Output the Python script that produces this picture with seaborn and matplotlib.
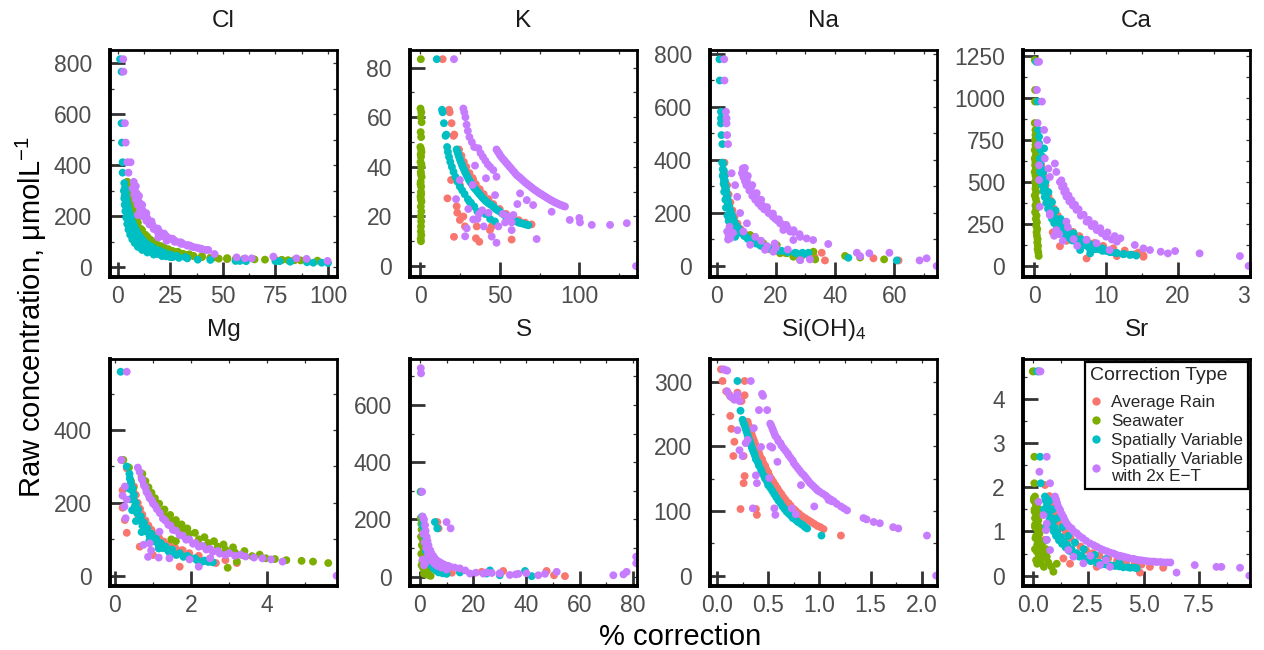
import matplotlib
matplotlib.use("Agg")
import matplotlib.pyplot as plt
import seaborn as sns
import pandas as pd
from matplotlib.ticker import MultipleLocator, FixedLocator, FixedFormatter
from matplotlib.lines import Line2D
from matplotlib.transforms import Bbox, TransformedBbox

# ---------------- data ----------------
TYPES = ["Average Rain", "Seawater", "Spatially Variable", "Spatially Variable\nwith 2x E\u2212T"]
COLORS = ["#F8766D", "#7CAE00", "#00BFC4", "#C77CFF"]

# Cl
cl_sea_x = [4.4, 4.8, 5.0, 5.3, 5.6, 6.0, 6.5, 7.0, 7.6, 8.3, 9.0, 10.0, 11.0, 12.2, 13.5, 15.0, 16.5, 18.0, 20.0, 22.0, 24.5, 27.0, 30.0, 33.0, 36.0, 40.0, 44.0, 48.0, 52.0, 56.0, 75.0, 78.0, 81.0, 84.0, 87.0, 5.5, 6.5, 7.5, 9.0, 11.0, 13.0, 15.5, 18.5, 22.0, 26.0, 31.0,
            6.0, 7.0, 8.0, 9.5, 11.5, 14.0, 17.0, 20.5, 24.0, 28.5, 34.0, 40.0, 46.0, 52.0, 60.0, 65.0, 70.0, 90.0, 95.0]
cl_sea_y = [335, 315, 300, 285, 268, 252, 235, 218, 200, 183, 168, 152, 138, 125, 113, 102, 93, 86, 78, 71, 64, 58, 53, 48, 44, 40, 37, 34, 33, 32, 29, 29, 28, 28, 27, 290, 250, 220, 185, 150, 128, 108, 90, 76, 64, 53,
            265, 232, 205, 175, 145, 120, 99, 83, 71, 61, 51, 44, 39, 36, 33, 31, 30, 27, 26]
cl_rain_x = [4.4, 5.0, 5.6, 6.5, 7.6, 9.0, 11.0, 13.5, 16.5, 20.0, 24.5, 30.0, 36.0, 44.0, 52.0, 78.0, 84.0]
cl_rain_y = [335, 300, 268, 235, 200, 168, 138, 113, 93, 78, 64, 53, 44, 37, 33, 29, 28]
cl_sv_x = [1.0, 1.7, 1.7, 1.9, 2.2, 2.2, 3.0, 3.3, 3.6, 3.2, 3.8, 4.0, 4.3, 3.9, 4.6, 5.0, 4.8, 5.4, 5.8, 6.3, 6.0, 6.8, 7.3, 8.0, 8.8, 9.5, 10.5, 11.5, 12.5, 14.0, 15.5, 17.0, 19.0, 21.0, 23.0, 26.0, 29.0, 33.0, 38.0, 44.0, 56.0, 58.0, 61.0, 75.0, 77.0, 82.0, 90.0, 93.0, 97.0, 100.0, 9.0, 11.0, 13.0, 16.0, 19.5,
           3.4, 3.7, 4.1, 4.5, 5.0, 5.6, 6.2, 7.0, 7.8, 8.6, 9.6, 10.8, 12.0, 13.5, 15.0, 17.0, 19.5, 22.0, 25.0, 28.0, 32.0,
           2.8, 3.0, 3.2, 3.5, 3.9, 4.4, 5.0, 5.8, 6.8, 8.0, 9.5, 11.5, 14.0, 17.0, 21.0, 25.0]
cl_sv_y = [816, 767, 565, 489, 412, 371, 330, 310, 295, 280, 270, 255, 240, 225, 215, 200, 190, 180, 170, 160, 150, 140, 130, 120, 110, 100, 92, 85, 78, 70, 64, 58, 52, 47, 43, 40, 37, 35, 30, 29, 25, 25, 24, 24, 24, 22, 20, 18, 18, 17, 128, 108, 95, 80, 66,
           300, 280, 262, 245, 228, 210, 192, 175, 160, 146, 132, 118, 105, 94, 85, 75, 66, 58, 50, 45, 40,
           300, 270, 245, 220, 195, 170, 148, 128, 110, 95, 80, 68, 58, 50, 44, 40]
cl_et_x = [2.5, 2.6, 3.3, 3.7, 4.5, 6.0, 5.0, 7.5, 8.0, 8.8, 9.5, 10.3, 11.2, 12.0, 13.0, 14.0, 15.2, 16.5, 18.0, 19.5, 21.0, 23.0, 25.0, 27.0, 29.0, 31.0, 33.0, 35.0, 37.5, 40.0, 8.5, 10.0, 11.5, 13.5, 16.0, 19.0, 22.0, 26.0, 30.0, 34.0, 9.5, 19.2, 23.2, 39.0, 43.0, 46.0, 56.5, 60.5, 63.7, 74.0, 85.0, 89.8, 99.8,
           7.0, 7.8, 8.5, 9.3, 10.5, 12.0, 13.5, 15.0, 17.0, 19.0, 21.5, 24.0, 27.0, 30.0, 33.0, 36.0, 39.0, 42.0]
cl_et_y = [816, 767, 565, 489, 412, 412, 371, 335, 315, 292, 272, 253, 235, 220, 205, 192, 178, 165, 152, 142, 133, 122, 113, 105, 98, 92, 87, 82, 77, 72, 318, 280, 245, 212, 180, 152, 132, 112, 98, 86, 205, 117, 104, 74, 68, 52, 39, 35, 35, 42, 35, 33, 25,
           310, 285, 265, 245, 222, 200, 182, 168, 150, 136, 122, 110, 100, 92, 85, 79, 73, 68]

# K
k_rain_x = [14.2, 18.2, 18.6, 19.8, 21.0, 21.5, 24.5, 26.0, 27.5, 29.0, 31.0, 33.0, 35.0, 37.5, 40.0, 43.0, 46.0, 50.0, 54.0, 58.0, 62.0, 66.0, 70.0, 19.5, 17.2, 23.0, 23.4, 21.3, 25.0, 27.2, 28.2, 35.6, 35.1, 37.2, 43.9, 45.0, 57.5, 56.5, 25.0, 33.4]
k_rain_y = [83.4, 63.0, 62.0, 57.6, 52.5, 53.0, 47.0, 44.5, 42.0, 40.0, 37.5, 35.5, 33.0, 31.0, 29.0, 27.0, 25.0, 23.0, 21.0, 19.5, 18.5, 17.5, 16.8, 34.7, 27.3, 24.1, 21.5, 11.8, 18.6, 20.0, 16.0, 16.0, 11.2, 9.8, 14.5, 16.0, 10.7, 18.6, 32.7, 34.7]
k_sea_x = [0.5, 0.3, 0.8, 0.5, 1.0, 0.4, 0.7, 0.2, 0.9, 0.6, 0.3, 0.8, 0.5, 1.0, 0.4, 0.7, 0.6, 0.3, 0.9, 0.5, 0.8, 0.4, 0.7, 0.6, 0.5, 0.8, 0.4, 0.6, 0.5, 0.7, 0.4, 0.9, 0.6, 0.3, 0.7]
k_sea_y = [83.4, 63.5, 62.0, 60.0, 58.0, 54.0, 52.0, 48.0, 46.0, 44.0, 42.0, 40.0, 38.0, 36.0, 34.0, 32.0, 30.0, 28.0, 26.0, 24.0, 22.0, 20.0, 18.0, 16.0, 14.0, 12.5, 11.0, 10.0, 27.0, 47.0, 45.0, 41.0, 37.0, 33.0, 29.0]
k_sv_x = [10.5, 13.8, 14.2, 15.0, 16.0, 16.5, 17.0, 17.5, 18.2, 19.0, 20.0, 21.0, 22.2, 23.5, 25.0, 26.5, 28.0, 30.0, 32.0, 34.0, 23.0, 24.0, 25.0, 26.2, 27.5, 29.0, 30.5, 32.0, 34.0, 36.0, 38.0, 40.0, 42.5, 45.0, 47.5, 50.0, 53.0, 56.0, 59.0, 62.0, 65.0, 68.0, 41.0, 44.0, 47.0, 36.0, 31.0,
          23.5, 24.5, 25.6, 26.8, 28.2, 29.8, 31.3, 33.0, 35.0, 37.0, 39.0, 41.2, 43.7, 46.2, 48.7, 51.5, 54.5, 57.5, 60.5, 63.5, 66.5]
k_sv_y = [83.4, 63.0, 62.0, 57.6, 52.5, 53.0, 48.0, 46.0, 44.0, 42.0, 40.0, 38.0, 36.0, 34.0, 32.0, 30.5, 29.0, 27.0, 25.5, 24.0, 47.0, 45.0, 43.0, 41.0, 39.0, 37.0, 35.0, 33.5, 31.5, 30.0, 28.5, 27.0, 25.5, 24.5, 23.0, 22.0, 20.5, 19.5, 18.5, 17.5, 17.0, 16.5, 21.0, 19.0, 18.0, 22.0, 26.0,
          46.0, 44.0, 42.0, 40.0, 38.0, 36.0, 34.2, 32.5, 30.8, 29.2, 27.7, 26.2, 25.0, 23.8, 22.5, 21.2, 20.0, 19.0, 18.0, 17.3, 16.7]
k_et_x = [21.3, 27.2, 27.8, 28.5, 29.2, 30.0, 31.0, 32.5, 34.0, 36.6, 38.0, 39.5, 41.0, 42.5, 44.0, 46.0, 48.0, 48.0, 49.5, 51.0, 53.0, 55.0, 57.0, 59.0, 61.0, 63.0, 65.0, 67.0, 69.0, 71.0, 73.0, 75.0, 77.0, 79.0, 81.0, 83.0, 85.0, 87.0, 89.0, 91.0, 34.5, 41.4, 47.1, 25.0, 33.0, 22.6, 30.3, 33.4, 29.3, 28.3, 45.0, 48.0, 49.2, 53.4, 57.5, 58.6, 61.1, 62.8, 67.0, 71.0, 73.2, 57.5, 82.6, 94.0, 100.0, 100.4, 107.8, 119.3, 129.8, 135.6, 37.0, 39.0, 43.0, 36.0, 40.0, 52.0, 55.0,
          48.7, 50.2, 52.0, 54.0, 56.0, 58.0, 60.0, 62.0, 64.0, 66.0, 68.0, 70.0, 72.0, 74.0, 76.0, 78.0, 80.0, 82.0, 84.0, 86.0, 88.0, 90.0]
k_et_y = [83.4, 63.5, 62.0, 60.0, 57.0, 54.5, 52.0, 50.0, 48.0, 47.5, 45.5, 44.0, 42.5, 41.0, 40.0, 38.7, 36.0, 47.0, 45.5, 44.0, 42.5, 41.0, 39.5, 38.0, 36.5, 35.5, 34.3, 33.2, 32.2, 31.2, 30.3, 29.4, 28.6, 27.8, 27.0, 26.3, 25.6, 25.0, 24.5, 24.0, 40.5, 35.4, 28.6, 34.7, 32.7, 27.0, 23.0, 18.8, 15.2, 12.0, 11.9, 9.4, 16.0, 17.6, 17.6, 20.6, 25.0, 29.3, 26.6, 24.6, 10.9, 14.5, 21.9, 18.6, 19.4, 17.6, 16.6, 16.6, 17.3, 0.0, 21.0, 22.5, 21.5, 19.0, 16.0, 21.0, 20.0,
          46.2, 44.7, 43.2, 41.7, 40.2, 38.7, 37.2, 36.0, 34.9, 33.7, 32.7, 31.7, 30.7, 29.8, 29.0, 28.2, 27.4, 26.6, 25.9, 25.3, 24.7, 24.2]

# Na
na_rain_x = [2.6, 3.0, 3.5, 4.0, 4.6, 5.3, 6.0, 7.0, 8.0, 9.5, 11.0, 13.0, 15.0, 17.5, 20.0, 23.0, 26.0, 29.0, 33.0, 35.5, 36.6, 53.0, 61.5]
na_rain_y = [390, 345, 305, 270, 240, 210, 185, 160, 140, 120, 103, 88, 76, 65, 57, 50, 45, 40, 35, 50, 21, 29, 21]
na_sea_x = [11.3, 12.4, 15.8, 17.5, 19.2, 20.3, 21.4, 23.7, 25.9, 28.2, 32.7, 33.3, 43.4, 48.5, 56.6, 14.0, 16.5, 18.5]
na_sea_y = [117, 98, 85, 66, 60, 79, 48, 48, 35, 23, 54, 25, 38, 32, 25, 95, 70, 62]
na_sv_x = [0.9, 1.0, 1.4, 1.4, 1.4, 1.6, 1.9, 2.2, 2.4, 2.6, 2.8, 3.0, 3.2, 3.4, 3.6, 3.9, 4.2, 4.6, 5.0, 5.5, 6.0, 6.8, 7.6, 8.5, 9.5, 10.5, 11.8, 13.0, 14.5, 16.0, 18.0, 20.0, 22.0, 24.0, 26.5, 29.0, 31.0, 44.5, 60.9, 2.0, 2.3, 2.5, 2.9, 3.1, 3.6, 4.0, 4.5, 5.2, 6.2,
           1.8, 2.0, 2.2, 2.4, 2.7, 3.0, 3.3, 3.7, 4.1, 4.6, 5.2, 5.9, 6.6, 7.4, 8.3, 9.3, 10.5, 11.8, 13.2, 14.8, 16.5, 18.5, 21.0, 24.0, 27.0, 30.0]
na_sv_y = [780, 700, 582, 557, 538, 494, 460, 387, 360, 340, 320, 300, 285, 270, 255, 240, 225, 210, 195, 180, 165, 150, 138, 125, 115, 105, 96, 88, 80, 74, 67, 62, 57, 53, 50, 50, 50, 31, 21, 340, 310, 280, 250, 220, 190, 170, 150, 130, 110,
           390, 365, 345, 325, 300, 278, 258, 238, 220, 200, 182, 165, 150, 136, 124, 113, 102, 93, 85, 77, 70, 63, 57, 52, 48, 45]
na_et_x = [2.5, 2.6, 3.1, 3.3, 3.3, 3.5, 3.8, 8.8, 9.2, 9.7, 10.2, 10.8, 11.5, 12.4, 13.3, 14.3, 15.5, 16.9, 18.2, 19.8, 21.4, 23.0, 24.8, 9.5, 10.5, 12.0, 13.5, 15.0, 17.0, 19.0, 21.0, 23.5, 26.0, 5.0, 6.2, 6.9, 7.9, 4.3, 3.5, 4.0, 4.6, 5.5, 3.8, 10.2, 11.3, 16.3, 19.1, 19.6, 22.5, 25.9, 28.2, 30.4, 32.6, 37.7, 28.2, 31.5, 47.4, 48.5, 51.6, 58.4, 68.6, 71.0, 74.4, 9.0, 13.0, 15.0, 17.0, 20.0, 24.0,
           8.5, 9.0, 9.5, 10.0, 11.0, 12.0, 13.0, 14.0, 15.0, 16.0, 17.5, 19.0, 20.5, 22.0, 24.0, 26.0, 28.0]
na_et_y = [780, 700, 582, 557, 538, 494, 460, 368, 355, 338, 322, 305, 290, 272, 258, 244, 228, 211, 196, 178, 161, 146, 130, 370, 340, 305, 275, 250, 222, 198, 176, 155, 135, 350, 305, 261, 200, 148, 130, 115, 105, 125, 100, 161, 80, 61, 54, 85, 136, 98, 110, 104, 98, 83, 22, 25, 50, 37, 48, 50, 21, 29, 0, 130, 110, 95, 75, 70, 62,
           350, 335, 320, 305, 285, 265, 250, 237, 225, 214, 200, 186, 172, 158, 143, 128, 120]

# Ca
ca_rain_x = [1.0, 1.3, 1.6, 2.0, 2.4, 2.9, 3.4, 4.0, 4.7, 5.5, 6.4, 7.4, 8.5, 9.7, 11.0, 12.5, 14.0, 15.2, 3.6, 7.3, 11.5, 15.2, 4.5, 2.6,
             1.2, 1.5, 1.9, 2.3, 2.8, 3.3, 3.9, 4.6, 5.4, 6.3, 7.3, 8.4, 9.6, 11.0, 12.6, 14.5]
ca_rain_y = [600, 540, 480, 420, 370, 320, 280, 245, 215, 185, 160, 140, 122, 105, 92, 80, 70, 62, 118, 45, 59, 55, 150, 200,
             560, 500, 440, 390, 340, 300, 265, 232, 203, 178, 156, 137, 120, 105, 92, 80]
ca_sea_x = [0.1, 0.15, 0.15, 0.1, 0.2, 0.2, 0.15, 0.2, 0.1, 0.25, 0.1, 0.2, 0.15, 0.25, 0.1, 0.2, 0.3, 0.15, 0.25, 0.2, 0.3, 0.1, 0.25, 0.35, 0.2, 0.3, 0.15, 0.35, 0.25, 0.4, 0.3, 0.45, 0.35, 0.4, 0.5, 0.45, 0.55, 0.5, 0.6, 0.65]
ca_sea_y = [1226, 1048, 979, 851, 810, 780, 750, 720, 690, 660, 640, 620, 600, 580, 560, 540, 520, 500, 480, 460, 440, 420, 400, 380, 360, 340, 320, 300, 280, 260, 240, 220, 200, 180, 160, 140, 120, 100, 80, 60]
ca_sv_x = [0.3, 0.5, 0.6, 0.7, 0.7, 0.9, 1.4, 1.2, 0.8, 0.9, 1.0, 1.1, 1.2, 1.35, 1.5, 1.65, 1.8, 2.0, 2.2, 2.5, 2.8, 3.1, 3.5, 3.9, 4.4, 5.0, 5.6, 6.2, 6.9, 7.5, 8.2, 9.0, 10.0, 10.8, 11.5, 12.4, 13.3, 14.2, 1.3, 1.6, 2.0, 2.5, 3.0, 3.7, 4.5, 5.5, 6.5, 7.8, 9.5, 6.4, 7.8,
           0.7, 0.85, 1.0, 1.15, 1.3, 1.5, 1.7, 1.95, 2.2, 2.5, 2.8, 3.2, 3.6, 4.1, 4.7, 5.3, 6.0, 6.8, 7.6, 8.5, 9.5, 10.5, 11.5, 12.5, 13.5]
ca_sv_y = [1216, 979, 810, 770, 730, 690, 700, 650, 640, 610, 580, 550, 520, 490, 460, 430, 400, 370, 345, 315, 290, 265, 245, 225, 205, 190, 170, 155, 138, 125, 112, 100, 90, 82, 76, 70, 66, 62, 560, 500, 440, 380, 330, 280, 235, 195, 160, 130, 105, 95, 75,
           600, 560, 520, 480, 445, 410, 375, 340, 310, 280, 255, 230, 210, 190, 170, 152, 137, 122, 110, 100, 90, 83, 77, 72, 68]
ca_et_x = [0.5, 0.7, 0.4, 1.1, 0.5, 1.4, 1.8, 0.6, 1.5, 0.7, 2.0, 2.2, 0.7, 2.9, 3.1, 0.8, 2.2, 3.6, 3.9, 4.2, 4.5, 4.9, 5.4, 5.9, 6.5, 7.3, 8.0, 8.7, 9.4, 10.0, 10.8, 11.5, 2.2, 3.1, 4.5, 4.7, 7.3, 8.7, 10.5, 14.0, 15.2, 16.1, 17.6, 18.6, 19.6, 23.0, 28.6, 29.8, 5.5, 6.0, 2.8, 3.5, 4.0,
           3.8, 4.1, 4.4, 4.8, 5.2, 5.7, 6.2, 6.9, 7.6, 8.4, 9.2, 10.2, 11.2, 12.0]
ca_et_y = [1216, 1216, 1048, 979, 851, 810, 750, 720, 640, 600, 580, 530, 512, 610, 560, 353, 313, 500, 470, 440, 413, 385, 360, 334, 300, 264, 238, 214, 195, 175, 158, 145, 303, 214, 264, 230, 155, 135, 95, 125, 105, 95, 85, 75, 89, 75, 59, 0, 160, 120, 180, 190, 150,
           510, 480, 450, 420, 392, 365, 338, 305, 275, 250, 225, 200, 178, 165]

# Mg
mg_rain_x = [0.17, 0.31, 0.2, 0.2, 0.26, 0.31, 0.48, 0.52, 0.56, 0.62, 0.68, 0.74, 0.82, 0.9, 1.0, 1.1, 1.22, 1.35, 1.5, 1.65, 1.78, 0.65, 1.0, 1.7, 2.2, 2.65, 2.9, 3.2,
             0.5, 0.55, 0.6, 0.66, 0.72, 0.8, 0.88, 0.96, 1.05, 1.16, 1.28, 1.42, 1.58, 1.75, 1.95, 2.2, 2.5]
mg_rain_y = [318, 295, 235, 187, 153, 118, 231, 205, 180, 162, 152, 143, 128, 117, 106, 96, 88, 80, 73, 68, 70, 80, 57, 25, 39, 35, 43, 35,
             245, 222, 200, 184, 168, 152, 138, 126, 114, 104, 94, 85, 77, 70, 62, 55, 48]
mg_sea_x = [0.22, 0.37, 0.42, 0.48, 0.7, 0.76, 0.83, 0.91, 1.0, 1.1, 1.22, 1.35, 1.5, 1.65, 1.78, 1.95, 2.2, 2.45, 2.7, 2.9, 3.15, 3.35, 3.6, 3.96, 4.2, 4.5, 4.9, 5.2, 5.6, 2.96, 3.2, 1.48, 1.6,
            0.72, 0.8, 0.88, 0.96, 1.05, 1.16, 1.3, 1.45, 1.6, 1.75, 1.9, 2.1, 2.35, 2.6, 2.85, 3.1, 3.4, 3.8]
mg_sea_y = [318, 297, 260, 240, 272, 250, 235, 221, 205, 190, 175, 162, 148, 137, 126, 115, 100, 90, 80, 72, 64, 57, 54, 48, 46, 43, 41, 39, 35, 22, 39, 100, 95,
            280, 260, 243, 228, 213, 198, 182, 167, 153, 141, 130, 118, 106, 95, 86, 78, 68, 58]
mg_sv_x = [0.15, 0.31, 0.39, 0.41, 0.44, 0.48, 0.52, 0.58, 0.65, 0.72, 0.8, 0.91, 1.02, 1.14, 1.26, 1.4, 1.61, 1.8, 1.96, 2.15, 2.3, 2.45, 2.57, 0.36, 0.4, 0.45, 0.55, 0.7, 0.9, 1.15, 1.45,
           0.38, 0.42, 0.46, 0.5, 0.55, 0.61, 0.68, 0.76, 0.85, 0.96, 1.08, 1.2, 1.33, 1.5, 1.7, 1.9, 2.1, 2.35, 2.5]
mg_sv_y = [560, 300, 267, 250, 235, 212, 190, 172, 154, 138, 122, 108, 95, 85, 76, 68, 57, 52, 48, 43, 39, 38, 37, 240, 210, 180, 150, 120, 95, 75, 60,
           280, 255, 240, 222, 200, 182, 163, 146, 130, 115, 102, 90, 80, 72, 62, 55, 48, 42, 40]
mg_et_x = [0.31, 0.17, 0.26, 0.31, 0.28, 0.6, 0.7, 0.76, 0.83, 0.91, 1.0, 1.1, 1.26, 1.4, 1.52, 1.7, 1.87, 2.05, 2.2, 2.4, 2.57, 2.75, 2.9, 3.15, 3.43, 3.65, 3.87, 4.1, 4.4, 0.87, 1.15, 1.43, 1.96, 2.2, 2.5, 0.91, 1.17, 5.82, 0.2, 0.25, 0.75, 0.95,
           0.65, 0.72, 0.8, 0.88, 0.97, 1.06, 1.18, 1.32, 1.46, 1.6, 1.78, 1.95, 2.12, 2.3, 2.5, 2.7, 3.0, 3.3]
mg_et_y = [560, 318, 245, 209, 158, 297, 267, 248, 230, 213, 198, 183, 157, 140, 126, 112, 99, 88, 80, 72, 66, 61, 57, 55, 53, 50, 48, 45, 39, 52, 50, 48, 45, 25, 48, 89, 121, 0, 220, 190, 85, 70,
           285, 262, 242, 222, 207, 192, 172, 152, 138, 124, 110, 100, 90, 82, 74, 68, 62, 58]

# S
s_rain_x = [6.5, 7.0, 23.2, 31.3, 47.6, 50.4, 54.5, 1.0, 1.5, 2.0, 2.5, 3.0, 4.0, 5.0, 6.0, 8.0, 10.0, 12.0]
s_rain_y = [191, 169, 17, 20, 20, 5, 2, 200, 170, 140, 115, 95, 70, 50, 38, 25, 18, 14]
s_sea_x = [0.2, 0.3, 0.8, 0.5, 1.2, 0.6, 1.5, 0.4, 1.0, 1.8, 0.7, 1.3, 2.2, 0.5, 1.6, 2.5, 0.9, 1.9, 0.6, 1.2, 2.3, 3.0, 1.5, 2.6, 3.5, 4.0]
s_sea_y = [297, 205, 195, 185, 175, 165, 150, 140, 130, 120, 110, 100, 90, 80, 70, 60, 55, 45, 40, 30, 25, 15, 10, 8, 5, 3]
s_sv_x = [0.4, 0.8, 1.2, 1.0, 1.6, 1.4, 2.0, 1.8, 2.5, 2.2, 3.0, 2.8, 3.6, 4.2, 5.0, 6.0, 7.0, 8.5, 10.0, 5.6, 6.5, 25.0, 26.3, 39.5, 42.0, 30.0, 15.0]
s_sv_y = [297, 210, 195, 180, 165, 150, 135, 120, 105, 90, 75, 60, 50, 40, 30, 22, 15, 12, 10, 191, 169, 11, 22, 20, 2, 5, 15]
s_et_x = [0.3, 0.4, 0.8, 1.0, 1.5, 1.9, 2.1, 2.5, 2.8, 3.2, 3.8, 4.3, 5.0, 5.6, 6.3, 7.2, 8.1, 9.2, 10.5, 11.3, 13.0, 15.0, 17.0, 18.8, 21.0, 23.8, 27.0, 30.0, 33.8, 37.0, 40.0, 44.5, 47.0, 1.2, 1.8, 2.3, 3.0, 3.6, 4.5, 5.5, 6.5, 8.0, 10.0, 10.0, 11.5, 1.9, 1.0, 1.5, 51.4, 72.7, 76.5, 77.7, 81.3, 81.3, 36.0, 30.0, 25.0]
s_et_y = [729, 711, 297, 210, 200, 180, 160, 140, 125, 110, 93, 82, 72, 64, 57, 52, 47, 42, 38, 35, 32, 29, 22, 11, 14, 11, 13, 11, 6, 10, 12, 5, 10, 150, 120, 100, 80, 68, 55, 45, 38, 32, 25, 191, 169, 47, 60, 40, 17, 5, 8, 17, 47, 70, 8, 12, 15]

# Si(OH)4
si_rain_x = [0.039, 0.054, 0.09, 0.12, 0.15, 0.2, 0.24, 0.27, 0.27, 0.13, 0.14, 0.17, 0.16, 0.26, 0.27, 0.26, 0.23, 0.38, 0.39, 1.21, 0.3, 0.32, 0.34, 0.36, 0.38, 0.41, 0.44, 0.47, 0.5, 0.53, 0.57, 0.61, 0.65, 0.7, 0.75, 0.8, 0.86, 0.92, 0.98, 1.04,
             0.31, 0.33, 0.35, 0.37, 0.4, 0.42, 0.45, 0.48, 0.51, 0.55, 0.59, 0.63, 0.67, 0.72, 0.77, 0.83, 0.89, 0.95, 1.01]
si_rain_y = [319, 301, 285, 280, 275, 283, 270, 301, 279, 247, 227, 207, 185, 185, 154, 143, 103, 103, 94, 62, 238, 228, 218, 209, 200, 190, 180, 170, 160, 150, 140, 130, 121, 112, 103, 96, 89, 83, 77, 72,
             232, 223, 213, 205, 195, 185, 175, 165, 155, 145, 135, 126, 117, 108, 100, 92, 86, 80, 75]
si_sea_x = []
si_sea_y = []
si_sv_x = [0.2, 0.23, 0.25, 0.27, 0.29, 0.31, 0.33, 0.35, 0.37, 0.4, 0.43, 0.46, 0.49, 0.52, 0.56, 0.6, 0.64, 0.68, 0.72, 0.77, 0.82, 0.86, 0.88, 1.02,
           0.26, 0.28, 0.3, 0.32, 0.34, 0.36, 0.38, 0.41, 0.44, 0.47, 0.5, 0.54, 0.58, 0.62, 0.66, 0.7, 0.74, 0.79, 0.84]
si_sv_y = [301, 255, 241, 232, 222, 212, 203, 194, 186, 175, 164, 154, 145, 136, 126, 116, 107, 99, 93, 86, 80, 75, 73, 62,
           236, 227, 217, 208, 198, 190, 180, 170, 159, 150, 140, 131, 121, 112, 103, 96, 89, 83, 78]
si_et_x = [0.065, 0.08, 0.1, 0.1, 0.13, 0.17, 0.2, 0.22, 0.33, 0.44, 0.45, 0.36, 0.43, 0.39, 0.35, 0.56, 0.57, 0.51, 0.41, 0.49, 0.59, 0.77, 0.2, 0.22, 0.25, 0.28, 0.3, 0.38, 0.52, 0.54, 0.73, 0.52, 0.54, 0.56, 0.59, 0.62, 0.65, 0.69, 0.72, 0.75, 0.79, 0.83, 0.87, 0.91, 0.95, 0.98, 1.03, 1.08, 1.14, 1.21, 1.27, 0.82, 0.95, 1.09, 1.12, 1.43, 1.46, 1.53, 1.59, 1.72, 1.77, 2.05, 2.14,
           0.53, 0.55, 0.57, 0.6, 0.63, 0.67, 0.7, 0.74, 0.77, 0.81, 0.85, 0.89, 0.93, 0.97, 1.0, 1.06, 1.11, 1.17, 1.24]
si_et_y = [319, 318, 317, 285, 277, 272, 280, 270, 301, 281, 278, 228, 199, 143, 104, 104, 94, 151, 256, 256, 176, 95, 225, 194, 185, 205, 210, 155, 200, 198, 104, 235, 228, 220, 212, 205, 197, 189, 182, 174, 166, 158, 151, 143, 137, 132, 127, 121, 115, 107, 101, 140, 107, 117, 115, 89, 87, 83, 81, 75, 73, 62, 0,
           232, 224, 216, 208, 201, 193, 186, 178, 170, 162, 155, 147, 140, 134, 130, 124, 118, 111, 104]

# Sr
sr_rain_x = [0.55, 0.7, 0.75, 0.85, 0.95, 1.05, 1.2, 1.35, 1.5, 1.7, 1.9, 2.15, 2.4, 2.7, 3.0, 3.4, 3.8, 4.2, 4.6, 4.9, 0.55, 1.38, 1.68, 2.88, 4.83, 5.28, 5.88]
sr_rain_y = [2.05, 1.64, 1.8, 1.62, 1.48, 1.35, 1.2, 1.07, 0.96, 0.85, 0.75, 0.66, 0.58, 0.51, 0.45, 0.39, 0.34, 0.3, 0.27, 0.25, 0.81, 0.39, 0.27, 0.2, 0.07, 0.2, 0.18]
sr_sea_x = [0.0, 0.05, 0.07, 0.07, 0.1, 0.05, 0.15, 0.08, 0.2, 0.1, 0.18, 0.1, 0.25, 0.15, 0.3, 0.2, 0.33, 0.1, 0.4, 0.25, 0.5, 0.63, 0.15, 0.35, 0.7, 0.85, 1.08, 0.93, 0.5, 0.2, 0.6, 0.45, 0.3, 0.22,
            0.05, 0.12, 0.2, 0.08, 0.15, 0.25, 0.1, 0.2, 0.3, 0.12, 0.22, 0.35, 0.18, 0.28, 0.4]
sr_sea_y = [4.62, 4.62, 2.69, 2.09, 1.79, 1.7, 1.6, 1.5, 1.4, 1.3, 1.2, 1.1, 1.0, 0.9, 0.8, 0.7, 0.73, 0.6, 0.55, 0.5, 0.45, 0.43, 0.35, 0.3, 0.3, 0.2, 0.27, 0.09, 0.2, 0.27, 0.6, 0.75, 1.1, 1.5,
            1.75, 1.65, 1.55, 1.45, 1.35, 1.25, 1.15, 1.05, 0.95, 0.85, 0.8, 0.65, 0.55, 0.45, 0.38]
sr_sv_x = [0.2, 0.25, 0.33, 0.36, 0.55, 0.6, 0.63, 0.5, 0.6, 0.65, 0.72, 0.8, 0.9, 1.0, 1.1, 1.25, 1.4, 1.55, 1.75, 1.98, 2.2, 2.45, 2.7, 3.0, 3.33, 3.7, 4.08, 4.4, 4.68, 0.75, 0.9, 1.1, 1.35, 1.6, 1.9, 2.3, 2.8, 3.3, 3.9,
           0.58, 0.62, 0.68, 0.75, 0.85, 0.95, 1.05, 1.18, 1.32, 1.48, 1.65, 1.85, 2.1, 2.35, 2.6, 2.9, 3.2, 3.55, 3.9, 4.3, 4.6]
sr_sv_y = [4.62, 4.62, 2.69, 2.09, 1.79, 1.11, 0.81, 1.5, 1.75, 1.6, 1.45, 1.32, 1.2, 1.08, 0.98, 0.88, 0.78, 0.7, 0.6, 0.51, 0.45, 0.39, 0.34, 0.29, 0.25, 0.22, 0.19, 0.18, 0.17, 1.7, 1.5, 1.3, 1.1, 0.9, 0.75, 0.6, 0.47, 0.38, 0.3,
           1.7, 1.55, 1.4, 1.25, 1.12, 1.0, 0.9, 0.8, 0.72, 0.64, 0.56, 0.49, 0.43, 0.37, 0.33, 0.29, 0.26, 0.23, 0.21, 0.19, 0.18]
sr_et_x = [0.3, 0.35, 0.63, 0.78, 0.3, 0.26, 0.48, 0.63, 0.6, 0.63, 0.78, 1.0, 1.1, 1.23, 1.38, 1.53, 1.75, 1.98, 2.25, 2.58, 2.9, 3.18, 3.5, 3.78, 4.1, 4.38, 4.7, 4.98, 5.3, 5.58, 5.9, 6.2, 1.6, 1.83, 2.28, 3.03, 3.48, 3.93, 6.48, 7.3, 8.28, 8.5, 9.34, 9.76, 2.6, 3.3,
           1.05, 1.15, 1.3, 1.45, 1.62, 1.85, 2.1, 2.4, 2.75, 3.05, 3.35, 3.65, 3.95, 4.25, 4.55, 4.85, 5.15, 5.45, 5.75, 6.05]
sr_et_y = [4.62, 4.62, 2.69, 2.09, 2.35, 1.67, 1.37, 1.18, 1.03, 0.81, 0.58, 1.79, 1.64, 1.49, 1.33, 1.18, 1.07, 0.96, 0.85, 0.73, 0.65, 0.58, 0.52, 0.47, 0.43, 0.39, 0.36, 0.34, 0.32, 0.31, 0.3, 0.3, 0.58, 0.43, 0.28, 0.24, 0.2, 0.43, 0.07, 0.24, 0.2, 0.2, 0.18, 0.0, 0.45, 0.35,
           1.72, 1.56, 1.4, 1.25, 1.12, 1.0, 0.9, 0.79, 0.69, 0.61, 0.55, 0.5, 0.45, 0.41, 0.38, 0.35, 0.33, 0.32, 0.31, 0.3]

# ---------------- styling ----------------
sns.set_theme(style="white")
plt.rcParams["font.family"] = ["Liberation Sans", "DejaVu Sans"]
plt.rcParams["mathtext.fontset"] = "custom"
plt.rcParams["mathtext.rm"] = "Liberation Sans"
plt.rcParams["mathtext.it"] = "Liberation Sans:italic"
plt.rcParams["mathtext.bf"] = "Liberation Sans:bold"

W, H = 1264, 650
fig = plt.figure(figsize=(W / 100, H / 100), dpi=100)

col_left = [110, 410, 710, 1023]
row_top = [50, 359]
PW = PH = 227

panels = [
    ("Cl", [(cl_rain_x, cl_rain_y), (cl_sea_x, cl_sea_y), (cl_sv_x, cl_sv_y), (cl_et_x, cl_et_y)],
     (-3.8, 104.3), (-38, 852), [0, 25, 50, 75, 100], 12.5, [0, 200, 400, 600, 800], 100, "{:.0f}"),
    ("K", [(k_rain_x, k_rain_y), (k_sea_x, k_sea_y), (k_sv_x, k_sv_y), (k_et_x, k_et_y)],
     (-6.3, 136.2), (-4.4, 87.1), [0, 50, 100], 25, [0, 20, 40, 60, 80], 10, "{:.0f}"),
    ("Na", [(na_rain_x, na_rain_y), (na_sea_x, na_sea_y), (na_sv_x, na_sv_y), (na_et_x, na_et_y)],
     (-2.3, 74.5), (-41.5, 815), [0, 20, 40, 60], 10, [0, 200, 400, 600, 800], 100, "{:.0f}"),
    ("Ca", [(ca_rain_x, ca_rain_y), (ca_sea_x, ca_sea_y), (ca_sv_x, ca_sv_y), (ca_et_x, ca_et_y)],
     (-1.53, 30.0), (-65.5, 1286), [0, 10, 20, 30], 5, [0, 250, 500, 750, 1000, 1250], 125, "{:.0f}"),
    ("Mg", [(mg_rain_x, mg_rain_y), (mg_sea_x, mg_sea_y), (mg_sv_x, mg_sv_y), (mg_et_x, mg_et_y)],
     (-0.13, 5.83), (-28, 595), [0, 2, 4], 1, [0, 200, 400], 100, "{:.0f}"),
    ("S", [(s_rain_x, s_rain_y), (s_sea_x, s_sea_y), (s_sv_x, s_sv_y), (s_et_x, s_et_y)],
     (-3.76, 81.6), (-32.5, 761), [0, 20, 40, 60, 80], 10, [0, 200, 400, 600], 100, "{:.0f}"),
    ("Si(OH)$_4$", [(si_rain_x, si_rain_y), (si_sea_x, si_sea_y), (si_sv_x, si_sv_y), (si_et_x, si_et_y)],
     (-0.068, 2.148), (-16, 335), [0.0, 0.5, 1.0, 1.5, 2.0], 0.25, [0, 100, 200, 300], 50, "{:.1f}"),
    ("Sr", [(sr_rain_x, sr_rain_y), (sr_sea_x, sr_sea_y), (sr_sv_x, sr_sv_y), (sr_et_x, sr_et_y)],
     (-0.44, 9.79), (-0.233, 4.9), [0.0, 2.5, 5.0, 7.5], 1.25, [0, 1, 2, 3, 4], 0.5, "{:.1f}"),
]

axes = []
for i, (name, series, xlim, ylim, xt, xminor, yt, yminor, xfmt) in enumerate(panels):
    r, c = divmod(i, 4)
    left = col_left[c] / W
    bottom = 1 - (row_top[r] + PH) / H
    ax = fig.add_axes([left, bottom, PW / W, PH / H])
    axes.append(ax)
    frames = []
    for t, (xs, ys) in zip(TYPES, series):
        if len(xs):
            frames.append(pd.DataFrame({"x": xs, "y": ys, "type": t}))
    df = pd.concat(frames, ignore_index=True)
    sns.scatterplot(data=df, x="x", y="y", hue="type", hue_order=TYPES, palette=COLORS,
                    s=32, linewidth=0, legend=False, ax=ax, alpha=1)
    ax.set_xlim(*xlim)
    ax.set_ylim(*ylim)
    ax.set_xlabel("")
    ax.set_ylabel("")
    ax.set_facecolor("white")
    ax.xaxis.set_major_locator(FixedLocator(xt))
    ax.xaxis.set_major_formatter(FixedFormatter([xfmt.format(v) for v in xt]))
    ax.yaxis.set_major_locator(FixedLocator(yt))
    ax.yaxis.set_major_formatter(FixedFormatter(["{:.0f}".format(v) for v in yt]))
    ax.xaxis.set_minor_locator(MultipleLocator(xminor))
    ax.yaxis.set_minor_locator(MultipleLocator(yminor))
    ax.xaxis.remove_overlapping_locs = False
    ax.yaxis.remove_overlapping_locs = False
    ax.tick_params(which="major", direction="in", length=11, width=2.0, color="#333333",
                   left=True, bottom=True, top=False, right=False,
                   labelsize=16.5, labelcolor="#4D4D4D")
    ax.tick_params(axis="y", which="major", pad=13)
    ax.tick_params(axis="x", which="major", pad=6)
    ax.tick_params(which="minor", direction="in", length=3, width=0.9, color="#333333",
                   left=True, bottom=True, top=True, right=True)
    for sp in ["left", "bottom"]:
        ax.spines[sp].set_linewidth(2.8)
        ax.spines[sp].set_color("black")
    for sp in ["top", "right"]:
        ax.spines[sp].set_linewidth(2.0)
        ax.spines[sp].set_color("black")
    ax.text(0.5, 1 + 29 / PH, name, transform=ax.transAxes, ha="center", va="center",
            fontsize=17.5, color="#1A1A1A")

# legend in the Sr panel
ax_sr = axes[7]
handles = [Line2D([], [], marker="o", ls="", color=c, markersize=6, markeredgewidth=0) for c in COLORS]
leg = ax_sr.legend(handles, TYPES, title="Correction Type", loc="upper right",
                   bbox_to_anchor=(1 - 2 / PW, 1 - 3 / PH), borderaxespad=0,
                   fontsize=12.3, title_fontsize=14, frameon=True, fancybox=False,
                   edgecolor="black", framealpha=1, borderpad=0.3, labelspacing=0.22,
                   handlelength=0.7, handletextpad=0.5, alignment="left")
leg.get_frame().set_linewidth(1.6)
leg._legend_box.sep = 8

fig.text(31 / W, 1 - 317 / H, "Raw concentration, \u03bcmolL$^{-1}$", rotation=90,
         ha="center", va="center", fontsize=21, color="black")
fig.text(680 / W, 1 - 645 / H, "% correction", ha="center", va="baseline",
         fontsize=21, color="black")

# clip the right-most Ca tick label at the panel edge, as in the original
fig.canvas.draw()
clipbox = TransformedBbox(Bbox([[0, 0], [1250 / W, 1]]), fig.transFigure)
for lbl in axes[3].get_xticklabels():
    lbl.set_clip_box(clipbox)
    lbl.set_clip_on(True)

fig.savefig("out.png", dpi=100)
